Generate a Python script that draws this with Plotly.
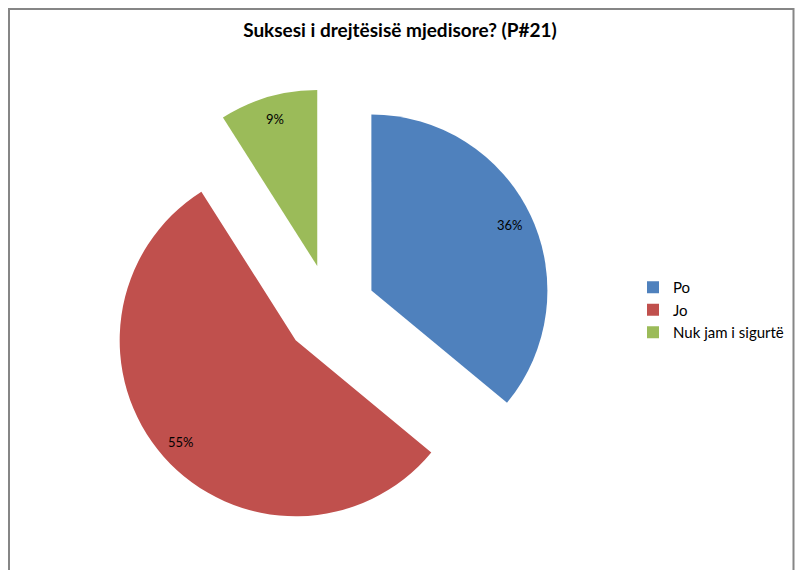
import math
import plotly.graph_objects as go

labels = ["Po", "Jo", "Nuk jam i sigurtë"]
values = [36, 55, 9]
colors = ["#4F81BD", "#C0504D", "#9BBB59"]
title = "Suksesi i drejtësisë mjedisore? (P#21)"

W, H = 795, 570
pull = 0.26
cx, cy, r = 330, 310, 176
half = r * (1 + pull)

FONT = "Lato, Open Sans, sans-serif"

fig = go.Figure(go.Pie(
    labels=labels,
    values=values,
    sort=False,
    direction="clockwise",
    rotation=0,
    pull=[pull] * len(values),
    marker=dict(colors=colors, line=dict(width=0)),
    textinfo="none",
    domain=dict(x=[(cx - half) / W, (cx + half) / W],
                y=[1 - (cy + half) / H, 1 - (cy - half) / H]),
    hoverinfo="label+percent",
))

# percentage labels placed along each slice bisector (Excel style, near outer edge)
total = sum(values)
annotations = []
start = 0.0
for v in values:
    frac = v / total
    mid = (start + frac / 2) * 2 * math.pi
    start += frac
    dist = (pull + 0.87) * r
    px = cx + dist * math.sin(mid)
    py = cy - dist * math.cos(mid)
    annotations.append(dict(x=px / W, y=1 - py / H, xref="paper", yref="paper",
                            text=f"{round(frac * 100)}%", showarrow=False,
                            xanchor="center", yanchor="middle",
                            font=dict(family=FONT, size=13, color="black")))

fig.update_layout(
    width=W, height=H,
    margin=dict(l=0, r=0, t=0, b=0),
    paper_bgcolor="white",
    title=dict(text="<b>" + title + "</b>", x=400 / W, y=1 - 30 / H,
               xanchor="center", yanchor="middle",
               font=dict(family=FONT, size=19, color="black")),
    legend=dict(x=633 / W, y=1 - 310 / H, xanchor="left", yanchor="middle",
                font=dict(family=FONT, size=15, color="black")),
    annotations=annotations,
    shapes=[dict(type="rect", xref="paper", yref="paper",
                 x0=9 / W, x1=793.5 / W, y0=-0.1, y1=1 - 9 / H,
                 line=dict(color="#868686", width=2))],
)

fig.write_html("out.html",
               config={"displayModeBar": False},
               post_script="document.body.style.margin='0';document.body.style.overflow='hidden';")
